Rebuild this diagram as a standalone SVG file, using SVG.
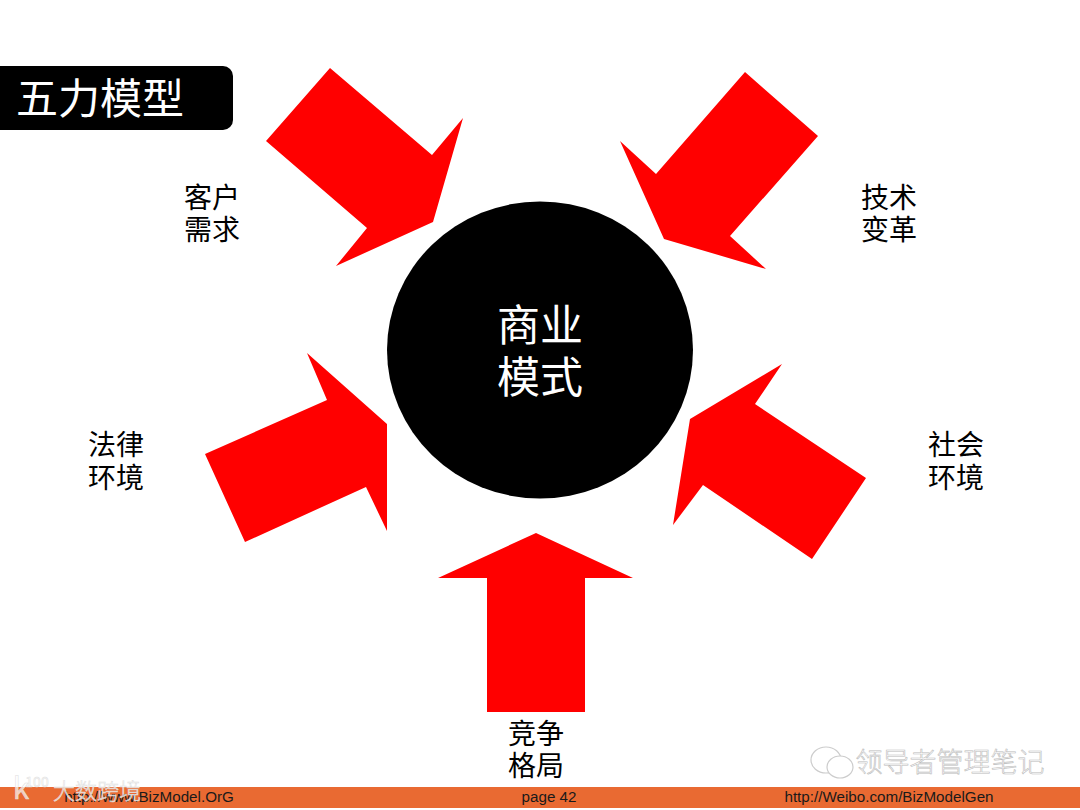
<svg xmlns="http://www.w3.org/2000/svg" width="1080" height="810" viewBox="0 0 1080 810">
<style>
text{font-family:"Noto Sans CJK SC","Liberation Sans",sans-serif;text-anchor:middle}
.lab{font-size:28px;fill:#000}
.arrow{fill:#ff0000}
.foot{font-family:"Liberation Sans",Arial,sans-serif;font-size:15.2px;fill:#1a1a1a}
.wm{fill:#fff;fill-opacity:.7;stroke:#ddd;stroke-width:.5}
.wm2{fill:#fff;stroke:#bbb;stroke-width:.6;font-weight:300}
.ic{fill:#fff;stroke:#ccc;stroke-width:1.2}
</style>
<rect width="1080" height="810" fill="#fff"/>
<g id="footer">
<rect x="0" y="787" width="1080" height="21" fill="#e96a32"/>
<text class="foot" x="149" y="802">http://www.BizModel.OrG</text>
<text class="foot" x="549" y="802">page 42</text>
<text class="foot" x="889" y="802">http://Weibo.com/BizModelGen</text>
</g>
<g id="title">
<path d="M0 66H223a10 10 0 0 1 10 10V120a10 10 0 0 1-10 10H0Z" fill="#000"/>
<text x="100" y="114" font-size="42" fill="#fff" font-weight="400">五力模型</text>
</g>
<g id="center">
<ellipse cx="540" cy="350" rx="153" ry="148.500" fill="#000"/>
<text x="540" y="341" font-size="43" fill="#fff">商业</text>
<text x="540" y="393" font-size="43" fill="#fff">模式</text>
</g>
<g id="connectors">
<polygon class="arrow" points="330,68 432,155 463,118 433,222 336,266 367,228 266,141"/>
<polygon class="arrow" points="818,136 730,236 766,269 664,239 620,141 656,174 745,72"/>
<polygon class="arrow" points="205,454 327,400 307,353 387,424 387,531 366,487 245,542"/>
<polygon class="arrow" points="866,478 812,559 703,485 673,525 690,419 782,364 755,404"/>
<polygon class="arrow" points="487,712 487,578 438,578 536,533 633,578 585,578 585,712"/>
</g>
<g id="n-kehu"><text class="lab" x="212" y="208">客户</text><text class="lab" x="212" y="240">需求</text></g>
<g id="n-jishu"><text class="lab" x="889" y="208">技术</text><text class="lab" x="889" y="240">变革</text></g>
<g id="n-falv"><text class="lab" x="116" y="455">法律</text><text class="lab" x="116" y="488">环境</text></g>
<g id="n-shehui"><text class="lab" x="956" y="455">社会</text><text class="lab" x="956" y="488">环境</text></g>
<g id="n-jingzheng"><text class="lab" x="536" y="744">竞争</text><text class="lab" x="536" y="776">格局</text></g>
<g id="watermark-left">
<text class="wm" x="21" y="799" font-size="30">k</text>
<text class="wm" x="37" y="787" font-size="14">100</text>
<text class="wm" x="97" y="799" font-size="22" font-weight="300">大数跨境</text>
</g>
<g id="watermark-right">
<ellipse class="ic" cx="826" cy="760" rx="15" ry="13"/>
<ellipse class="ic" cx="840" cy="767" rx="13" ry="11"/>
<text class="wm2" x="950" y="772" font-size="27">领导者管理笔记</text>
</g>
</svg>
